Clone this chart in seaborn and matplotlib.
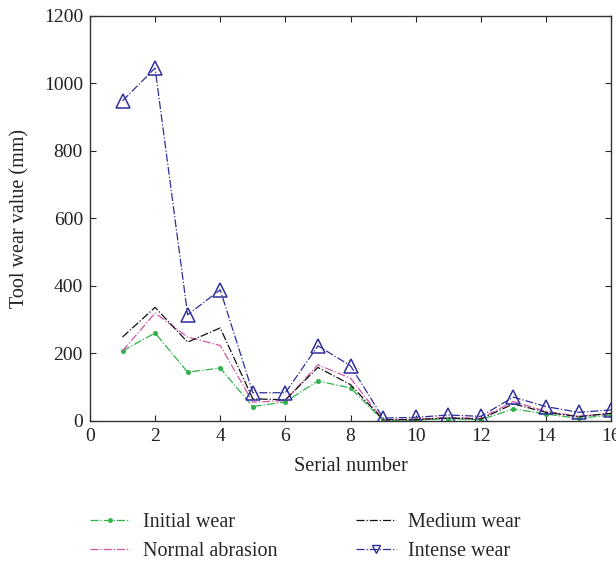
import numpy as np
import pandas as pd
import seaborn as sns
import matplotlib
matplotlib.use("Agg")
import matplotlib.pyplot as plt
from matplotlib.lines import Line2D

# Werte
serial = list(range(1, 17))
initial_wear = [207, 260, 144, 156, 42, 56, 118, 97, 1, 2, 6, 3, 35, 20, 7, 17]
normal_abrasion = [207, 319, 248, 223, 55, 60, 166, 126, 3, 5, 10, 7, 57, 28, 13, 22]
medium_wear = [248, 336, 233, 275, 65, 62, 158, 107, 3, 3, 8, 5, 50, 25, 12, 22]
intense_wear = [948, 1045, 314, 388, 83, 83, 222, 163, 8, 10, 17, 13, 70, 42, 25, 32]

series_names = ["Initial wear", "Normal abrasion", "Medium wear", "Intense wear"]
series_values = [initial_wear, normal_abrasion, medium_wear, intense_wear]
colors = ["#2fb34c", "#d257a6", "#111111", "#2f2f9a"]
markers = ["o", None, None, "^"]
marker_sizes = [2.5, 0, 0, 9.5]

sns.set_style("ticks")
plt.rcParams["font.family"] = ["Liberation Serif", "DejaVu Serif"]

fig = plt.figure(figsize=(6.16, 5.64), dpi=100)
ax = fig.add_axes([0.146, 0.254, 0.846, 0.718])

for name, vals, c, m, ms in zip(series_names, series_values, colors, markers, marker_sizes):
    df = pd.DataFrame({"Serial number": serial, "value": vals})
    kw = dict(color=c, linestyle="-.", linewidth=0.9, ax=ax)
    if m is not None:
        kw.update(marker=m, markersize=ms, markeredgecolor=c, markeredgewidth=1.1,
                  markerfacecolor=c if m == "o" else "none")
    sns.lineplot(data=df, x="Serial number", y="value", **kw)

ax.set_xlim(0, 16)
ax.set_ylim(0, 1200)
ax.set_xticks(range(0, 17, 2))
ax.set_yticks(range(0, 1201, 200))
ax.set_xlabel("Serial number", fontsize=14.5, color="#222222", labelpad=9)
ax.set_ylabel("Tool wear value (mm)", fontsize=14.5, color="#222222", labelpad=10)
ax.tick_params(direction="in", top=True, right=True, labelsize=14, length=4,
               labelcolor="#222222", pad=5)
for sp in ax.spines.values():
    sp.set_linewidth(1.0)
    sp.set_color("#333333")

legend_handles = []
for name, c in zip(series_names, colors):
    if name == "Initial wear":
        h = Line2D([], [], color=c, ls="-.", lw=0.9, marker="o", markersize=2.5)
    elif name == "Intense wear":
        h = Line2D([], [], color=c, ls="-.", lw=0.9, marker="v", markersize=6,
                   markerfacecolor="none")
    else:
        h = Line2D([], [], color=c, ls="-.", lw=0.9)
    legend_handles.append(h)

fig.legend(legend_handles, series_names, loc="lower left",
           bbox_to_anchor=(0.117, -0.027), ncol=2, frameon=False,
           fontsize=14.5, columnspacing=3.9, handlelength=2.0, handletextpad=0.6,
           labelspacing=0.5)

fig.savefig("out.png", dpi=100)
